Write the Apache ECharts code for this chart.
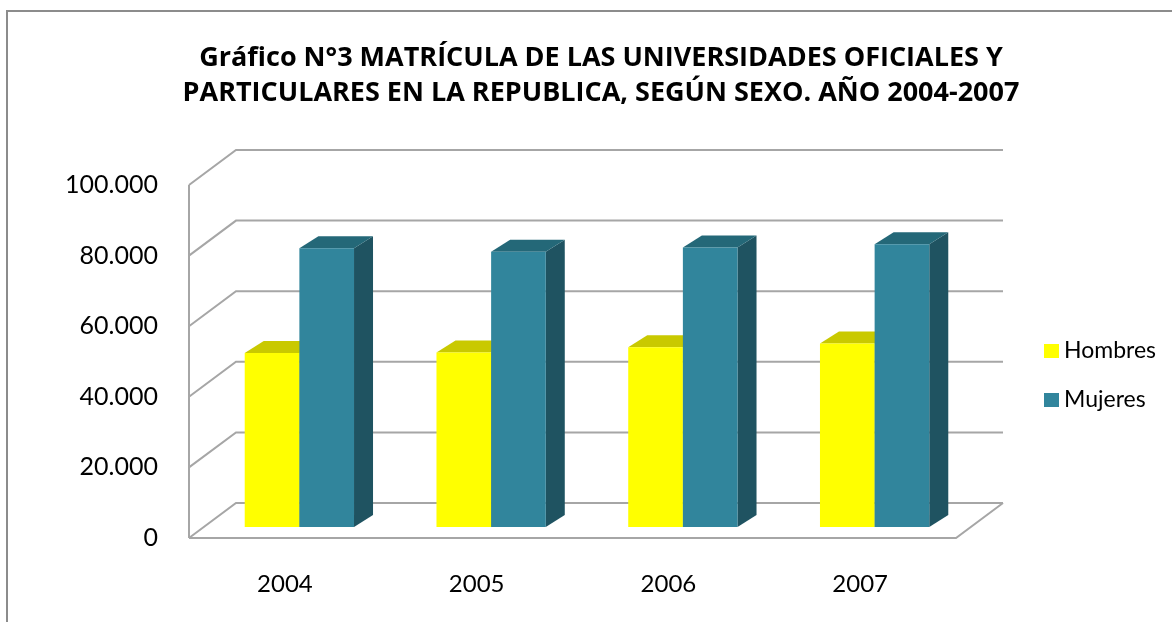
<!DOCTYPE html>
<html>
<head>
<meta charset="utf-8">
<script src="https://cdn.jsdelivr.net/npm/echarts@6/dist/echarts.min.js"></script>
<style>
html,body{margin:0;padding:0;background:#fff;}
#chart{width:1172px;height:622px;}
</style>
</head>
<body>
<div id="chart"></div>
<script>
const categories = ['2004', '2005', '2006', '2007'];
const hombres = [49300, 49400, 50900, 52000];
const mujeres = [79000, 78000, 79200, 80100];
const yTicks = [0, 20000, 40000, 60000, 80000, 100000];
const yTickLabels = ['0', '20.000', '40.000', '60.000', '80.000', '100.000'];
const seriesNames = ['Hombres', 'Mujeres'];
const titleText = 'Gráfico N°3 MATRÍCULA DE LAS UNIVERSIDADES OFICIALES Y\nPARTICULARES EN LA REPUBLICA, SEGÚN SEXO. AÑO 2004-2007';

// perspective constants
const WDX = 47, WDY = 35;   // wall depth
const BOX = 14.5, BOY = 11; // bar front plane offset
const BDX = 19, BDY = 12;   // bar depth
const FONT = 'Lato';

const chart = echarts.init(document.getElementById('chart'));

function wallRender(params, api) {
  const cs = params.coordSys;
  const v = api.value(1);
  const y = api.coord([0, v])[1];
  const x0 = cs.x, x1 = cs.x + cs.width;
  const style = {stroke: '#a6a6a6', lineWidth: 2, fill: null};
  const children = [{
    type: 'polyline',
    shape: {points: [[x0, y], [x0 + WDX, y - WDY], [x1 + WDX, y - WDY]]},
    style: style
  }];
  if (v === 0) {
    children.push({
      type: 'polyline',
      shape: {points: [[x0, y], [x1, y], [x1 + WDX, y - WDY]]},
      style: style
    });
    const yTop = api.coord([0, yTicks[yTicks.length - 1]])[1];
    children.push({
      type: 'line',
      shape: {x1: x0, y1: y, x2: x0, y2: yTop},
      style: style
    });
  }
  return {type: 'group', children: children};
}

function makeBarRender(side, colors) {
  return function (params, api) {
    const idx = api.value(0);
    const base = api.coord([idx, 0]);
    const top = api.coord([idx, api.value(1)]);
    const bw = api.size([1, 0])[0] * 0.285;
    const xl = (side === 0 ? base[0] - bw : base[0]) + BOX;
    const xr = xl + bw;
    const yb = base[1] - BOY;
    const yt = top[1] - BOY;
    return {
      type: 'group',
      children: [
        {type: 'polygon', shape: {points: [[xr, yt], [xr + BDX, yt - BDY], [xr + BDX, yb - BDY], [xr, yb]]},
         style: {fill: colors.side}},
        {type: 'polygon', shape: {points: [[xl, yt], [xr, yt], [xr + BDX, yt - BDY], [xl + BDX, yt - BDY]]},
         style: {fill: colors.top}},
        {type: 'rect', shape: {x: xl, y: yt, width: bw, height: yb - yt},
         style: {fill: colors.front}}
      ]
    };
  };
}

const hColors = {front: '#FFFF00', top: '#C9C900', side: '#B3B300'};
const mColors = {front: '#31859C', top: '#246878', side: '#1F5361'};

const option = {
  animation: false,
  backgroundColor: '#ffffff',
  title: {
    text: titleText,
    left: 596,
    top: 36,
    textAlign: 'center',
    textStyle: {fontFamily: 'Open Sans', fontWeight: 'bold', fontSize: 27, lineHeight: 35, color: '#000'}
  },
  legend: {
    orient: 'vertical',
    left: 1039,
    top: 334,
    icon: 'rect',
    itemWidth: 15,
    itemHeight: 14,
    itemGap: 25,
    data: seriesNames,
    textStyle: {fontFamily: FONT, fontSize: 23, lineHeight: 24, color: '#000'}
  },
  grid: {left: 189, right: 216, top: 185, bottom: 84, containLabel: false},
  xAxis: {
    type: 'category',
    data: categories,
    axisLine: {show: false},
    axisTick: {show: false},
    axisLabel: {fontFamily: FONT, fontSize: 24, lineHeight: 25, margin: 34, color: '#000'}
  },
  yAxis: {
    type: 'value',
    min: 0,
    max: 100000,
    interval: 20000,
    axisLine: {show: false},
    axisTick: {show: false},
    splitLine: {show: false},
    axisLabel: {
      fontFamily: FONT, fontSize: 25, margin: 31, color: '#000',
      formatter: function (v) { return yTickLabels[yTicks.indexOf(v)]; }
    }
  },
  series: [
    {
      type: 'custom',
      name: 'walls',
      silent: true,
      z: 1,
      renderItem: wallRender,
      encode: {x: 0, y: 1},
      data: yTicks.map(v => [0, v])
    },
    {
      type: 'custom',
      name: seriesNames[0],
      z: 2,
      itemStyle: {color: hColors.front},
      renderItem: makeBarRender(0, hColors),
      encode: {x: 0, y: 1},
      data: hombres.map((v, i) => [i, v])
    },
    {
      type: 'custom',
      name: seriesNames[1],
      z: 3,
      itemStyle: {color: mColors.front},
      renderItem: makeBarRender(1, mColors),
      encode: {x: 0, y: 1},
      data: mujeres.map((v, i) => [i, v])
    }
  ],
  graphic: [{
    type: 'rect',
    shape: {x: 7, y: 11, width: 1250, height: 700},
    style: {fill: null, stroke: '#8c8c8c', lineWidth: 2},
    silent: true,
    z: 100
  }]
};

chart.setOption(option);
</script>
</body>
</html>
